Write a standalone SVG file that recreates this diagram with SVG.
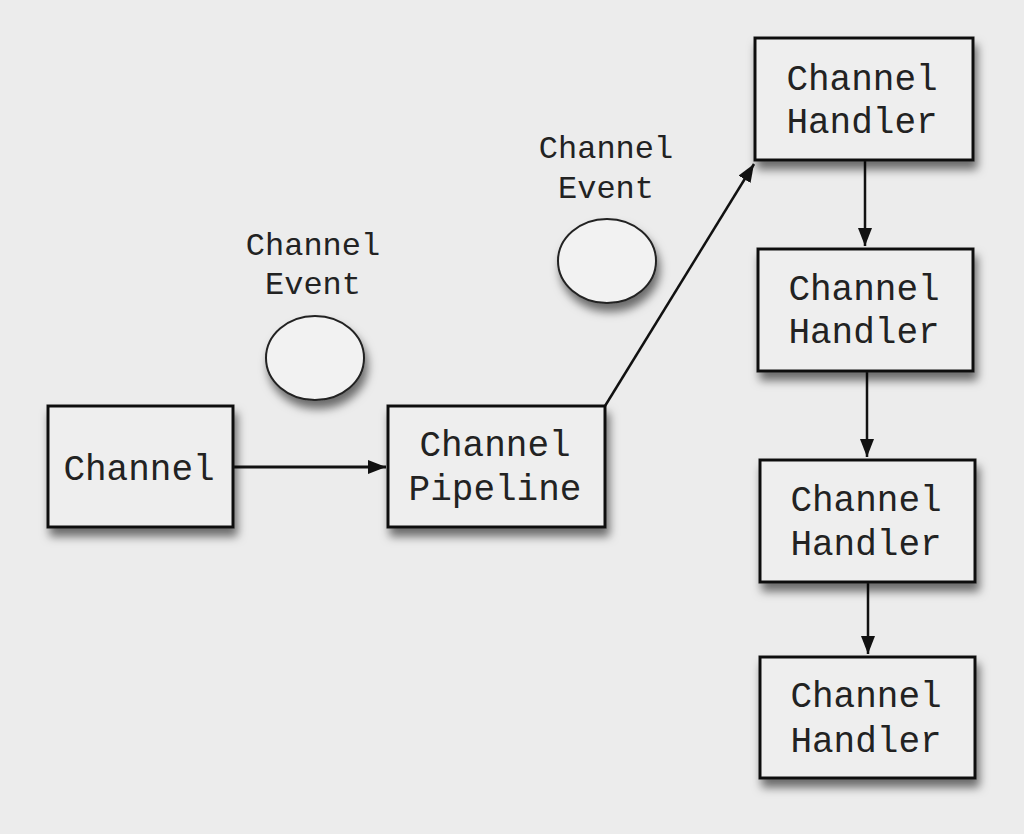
<svg xmlns="http://www.w3.org/2000/svg" width="1024" height="834" viewBox="0 0 1024 834">
<defs>
<filter id="sh" x="-20%" y="-20%" width="150%" height="160%">
<feDropShadow dx="3" dy="8" stdDeviation="5" flood-color="#000" flood-opacity="0.55"/>
</filter>
<marker id="ah" viewBox="0 0 18 14" refX="18" refY="7" markerWidth="18" markerHeight="14" markerUnits="userSpaceOnUse" orient="auto">
<path d="M0,0 L18,7 L0,14 Z" fill="#111"/>
</marker>
<style>
.box{fill:#eeeeee;stroke:#111;stroke-width:3;filter:url(#sh)}
.ev{fill:#f2f2f2;stroke:#222;stroke-width:2;filter:url(#sh)}
.t{font-family:"Liberation Mono","Courier New",monospace;font-size:36px;fill:#222;text-anchor:middle}
.s{font-family:"Liberation Mono","Courier New",monospace;font-size:32px;fill:#222;text-anchor:middle}
.c{stroke:#111;stroke-width:2.5;fill:none;marker-end:url(#ah)}
</style>
</defs>
<rect width="1024" height="834" fill="#ececec"/>
<g id="connectors">
<line class="c" x1="233" y1="467" x2="386" y2="467" style="stroke-width:3"/>
<line class="c" x1="605" y1="406" x2="754" y2="164"/>
<line class="c" x1="865" y1="160" x2="865" y2="246"/>
<line class="c" x1="867" y1="371" x2="867" y2="457"/>
<line class="c" x1="868" y1="582" x2="868" y2="654"/>
</g>
<g id="event1">
<ellipse class="ev" cx="315" cy="358" rx="49" ry="42"/>
<text class="s" x="313" y="255">Channel</text>
<text class="s" x="313" y="294">Event</text>
</g>
<g id="event2">
<ellipse class="ev" cx="607" cy="261" rx="49" ry="42"/>
<text class="s" x="606" y="158">Channel</text>
<text class="s" x="606" y="198">Event</text>
</g>
<g id="channel">
<rect class="box" x="48" y="406" width="185" height="121"/>
<text class="t" x="139" y="480">Channel</text>
</g>
<g id="pipeline">
<rect class="box" x="388" y="406" width="217" height="121"/>
<text class="t" x="495" y="456">Channel</text>
<text class="t" x="495" y="500">Pipeline</text>
</g>
<g id="handler1">
<rect class="box" x="755" y="38" width="218" height="122"/>
<text class="t" x="862" y="90">Channel</text>
<text class="t" x="862" y="133">Handler</text>
</g>
<g id="handler2">
<rect class="box" x="758" y="249" width="215" height="122"/>
<text class="t" x="864" y="300">Channel</text>
<text class="t" x="864" y="343">Handler</text>
</g>
<g id="handler3">
<rect class="box" x="760" y="460" width="215" height="122"/>
<text class="t" x="866" y="511">Channel</text>
<text class="t" x="866" y="555">Handler</text>
</g>
<g id="handler4">
<rect class="box" x="760" y="657" width="215" height="121"/>
<text class="t" x="866" y="707">Channel</text>
<text class="t" x="866" y="752">Handler</text>
</g>
</svg>
